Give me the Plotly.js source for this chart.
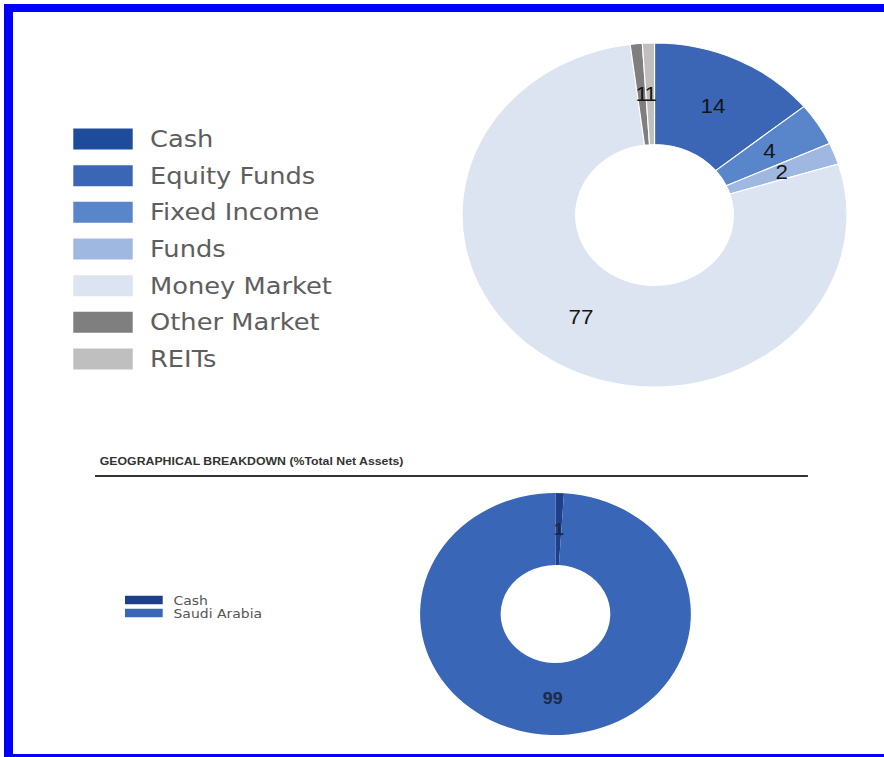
<!DOCTYPE html>
<html><head><meta charset="utf-8">
<script src="https://cdn.plot.ly/plotly-3.0.1.min.js"></script>
<style>
html,body{margin:0;padding:0;background:#fff;overflow:hidden;width:884px;height:757px;}
#wrap{position:relative;width:884px;height:757px;overflow:hidden;background:#fff;}
#plot{position:absolute;left:0;top:0;width:790px;height:757px;transform:scale(1.119,1);transform-origin:0 0;}
.b{position:absolute;background:#0000ff;z-index:5;}
</style></head><body>
<div id="wrap"><div id="plot"></div>
<div class="b" style="left:4px;top:4px;width:880px;height:8px"></div>
<div class="b" style="left:4px;top:4px;width:9px;height:753px"></div>
<div class="b" style="left:4px;top:754px;width:880px;height:3px"></div>
</div>
<script>
// ---- data ----
const assetClasses = ['Cash', 'Equity Funds', 'Fixed Income', 'Funds', 'Money Market', 'Other Market', 'REITs'];
const assetValues  = [0, 14, 4, 2, 77, 1, 1];
const assetColors  = ['#1f4c9a', '#3a66b5', '#5985cb', '#9fb8e1', '#dce3f1', '#7f7f7f', '#bfbfbf'];

const geoRegions = ['Cash', 'Saudi Arabia'];
const geoValues  = [1, 99];
const geoColors  = ['#1f3f8a', '#3966b6'];

const geoTitle = 'GEOGRAPHICAL BREAKDOWN (%Total Net Assets)';

// ---- layout ----
const W = 790, H = 757;
const dom1 = {x: [0.5227, 0.9581], y: [0.48877, 0.94320]};
const dom2 = {x: [0.4752, 0.7815], y: [0.02906, 0.34875]};
const hole1 = 0.41, hole2 = 0.405;

function sliceLabels(values, domain, hole, font) {
  const total = values.reduce((a, b) => a + b, 0);
  const wpx = (domain.x[1] - domain.x[0]) * W, hpx = (domain.y[1] - domain.y[0]) * H;
  const R = Math.min(wpx, hpx) / 2;
  const rm = R * (1 + hole) / 2;
  const cx = (domain.x[0] + domain.x[1]) / 2, cy = (domain.y[0] + domain.y[1]) / 2;
  let cum = 0; const out = [];
  values.forEach(v => {
    const mid = (cum + v / 2) / total * 2 * Math.PI; cum += v;
    if (v <= 0) return;
    out.push({xref: 'paper', yref: 'paper', x: cx + rm * Math.sin(mid) / W, y: cy + rm * Math.cos(mid) / H,
      text: String(v), showarrow: false, xanchor: 'center', yanchor: 'middle', font: font});
  });
  return out;
}

function legendItems(names, colors, x0, x1, yTop, step, h, textX, font) {
  const shapes = [], anns = [];
  names.forEach((n, i) => {
    const yc = yTop + i * step;
    shapes.push({type: 'rect', xref: 'paper', yref: 'paper', x0: x0 / W, x1: x1 / W,
      y0: 1 - (yc - h / 2) / H, y1: 1 - (yc + h / 2) / H, fillcolor: colors[i], line: {width: 0}});
    anns.push({xref: 'paper', yref: 'paper', x: textX / W, y: 1 - yc / H, text: n, showarrow: false,
      xanchor: 'left', yanchor: 'middle', font: font});
  });
  return {shapes, anns};
}

const traces = [
  {type: 'pie', labels: assetClasses, values: assetValues, hole: hole1, sort: false, direction: 'clockwise', rotation: 0,
   marker: {colors: assetColors, line: {color: '#ffffff', width: 1}}, textinfo: 'none', hoverinfo: 'skip',
   domain: dom1, showlegend: false},
  {type: 'pie', labels: geoRegions, values: geoValues, hole: hole2, sort: false, direction: 'clockwise', rotation: 0,
   marker: {colors: geoColors, line: {color: '#ffffff', width: 0}}, textinfo: 'none', hoverinfo: 'skip',
   domain: dom2, showlegend: false}
];

const leg1 = legendItems(assetClasses, assetColors, 65.5, 118.6, 139, 36.67, 21, 131.6,
  {family: 'DejaVu Sans', size: 23, color: '#5e5e5e'});
const leg2 = legendItems(geoRegions, geoColors, 111.7, 145.4, 600, 13, 8.5, 153.4,
  {family: 'DejaVu Sans', size: 12.5, color: '#555555'});

const labelFont1 = {family: 'Liberation Sans, Arial', size: 20, color: '#151515'};
const labelFont2 = {family: 'Liberation Sans, Arial', size: 16, color: '#1b2a4a', weight: 'bold'};

const annotations = [].concat(
  leg1.anns, leg2.anns,
  sliceLabels(assetValues, dom1, hole1, labelFont1),
  sliceLabels(geoValues, dom2, hole2, labelFont2),
  [{xref: 'paper', yref: 'paper', x: 86.7 / W, y: 1 - 461 / H, text: '<b>' + geoTitle + '</b>', showarrow: false,
    xanchor: 'left', yanchor: 'middle', font: {family: 'Liberation Sans, Arial', size: 11, color: '#333333'}}]
);

const shapes = [].concat(leg1.shapes, leg2.shapes,
  [{type: 'line', xref: 'paper', yref: 'paper', x0: 84.9 / W, x1: 722 / W, y0: 1 - 476 / H, y1: 1 - 476 / H,
    line: {color: '#333333', width: 2}}]);

const layout = {
  width: W, height: H, margin: {l: 0, r: 0, t: 0, b: 0},
  paper_bgcolor: '#ffffff', plot_bgcolor: '#ffffff',
  showlegend: false, annotations: annotations, shapes: shapes
};

Plotly.newPlot('plot', traces, layout, {displayModeBar: false, staticPlot: true});
</script>
</body></html>
